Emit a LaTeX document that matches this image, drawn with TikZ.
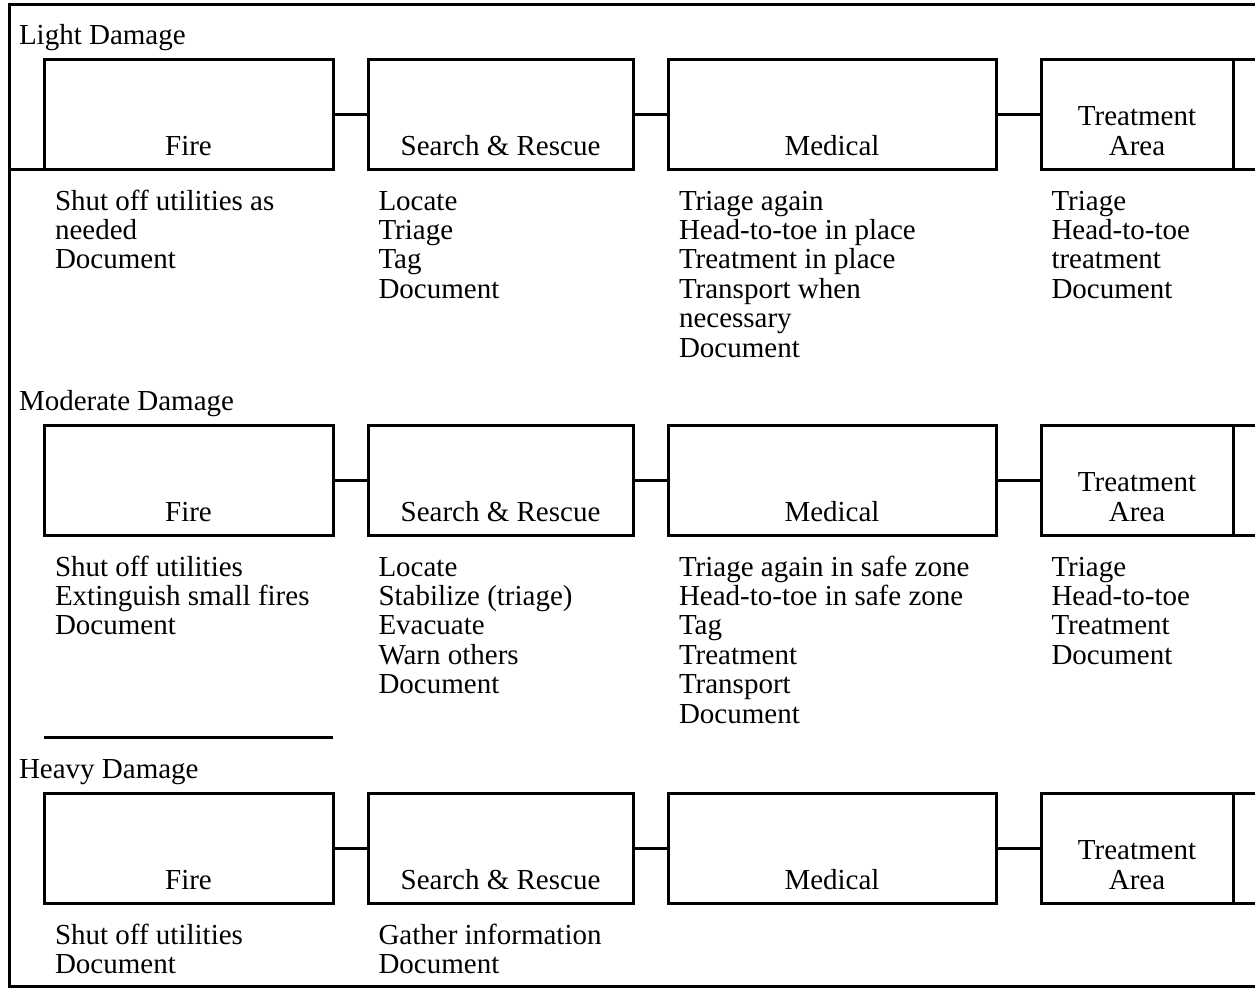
\documentclass[tikz,border=0pt]{standalone}
\usepackage{fontspec}
\setmainfont{Liberation Serif}
\begin{document}
\begin{tikzpicture}[x=1pt,y=-1pt,
  line width=3pt,
  box/.style={draw, rectangle, anchor=north west, minimum height=110pt, inner sep=0pt, outer sep=0pt},
  blabel/.style={anchor=base, inner sep=0pt, font=\fontsize{29}{29.4}\selectfont},
  list/.style={anchor=base west, inner sep=0pt, font=\fontsize{29}{29.4}\selectfont},
  head/.style={anchor=base west, inner sep=0pt, font=\fontsize{29}{29.4}\selectfont}]
\clip (0,0) rectangle (1255,988);
\newcommand{\lst}[1]{\begin{tabular}[t]{@{}l@{}}#1\end{tabular}}
\newcommand{\twol}[1]{\begin{tabular}[b]{@{}c@{}}#1\end{tabular}}
% frame
\draw (1300,4) -- (9,4) -- (9,986) -- (1300,986);
% rows
\foreach \r/\t/\h in {1/59/Light Damage, 2/425/Moderate Damage, 3/793/Heavy Damage}{
  \node[head] (h\r) at (17.5,\t-15) {\h};
  \node[box, minimum width=289pt] (f\r) at (44,\t) {};
  \node[box, minimum width=265pt] (s\r) at (368,\t) {};
  \node[box, minimum width=328pt] (m\r) at (668,\t) {};
  \node[box, minimum width=192pt] (t\r) at (1041,\t) {};
  \node[box, minimum width=200pt] (x\r) at (1233,\t) {};
  \draw (f\r.east) -- (s\r.west);
  \draw (s\r.east) -- (m\r.west);
  \draw (m\r.east) -- (t\r.west);
  \node[blabel] (fl\r) at ([yshift=14pt]f\r.south) {Fire};
  \node[blabel] (sl\r) at ([yshift=14pt]s\r.south) {Search \& Rescue};
  \node[blabel] (ml\r) at ([yshift=14pt]m\r.south) {Medical};
  \node[blabel] (tl\r) at ([yshift=14pt]t\r.south) {\twol{Treatment\\Area}};
}
\coordinate (lf) at (9,169);
\draw (lf) -- (f1.south west);
% separator
\coordinate (sepa) at (44,737);
\coordinate (sepb) at (333,737);
\draw (sepa) -- (sepb);
% lists row 1
\node[list] (a11) at (53.5,210) {\lst{Shut off utilities as\\needed\\Document}};
\node[list] (a12) at (377,210) {\lst{Locate\\Triage\\Tag\\Document}};
\node[list] (a13) at (677.5,210) {\lst{Triage again\\Head-to-toe in place\\Treatment in place\\Transport when\\necessary\\Document}};
\node[list] (a14) at (1050,210) {\lst{Triage\\Head-to-toe\\treatment\\Document}};
% lists row 2
\node[list] (a21) at (53.5,576) {\lst{Shut off utilities\\Extinguish small fires\\Document}};
\node[list] (a22) at (377,576) {\lst{Locate\\Stabilize (triage)\\Evacuate\\Warn others\\Document}};
\node[list] (a23) at (677.5,576) {\lst{Triage again in safe zone\\Head-to-toe in safe zone\\Tag\\Treatment\\Transport\\Document}};
\node[list] (a24) at (1050,576) {\lst{Triage\\Head-to-toe\\Treatment\\Document}};
% lists row 3
\node[list] (a31) at (53.5,944) {\lst{Shut off utilities\\Document}};
\node[list] (a32) at (377,944) {\lst{Gather information\\Document}};
\end{tikzpicture}
\end{document}
